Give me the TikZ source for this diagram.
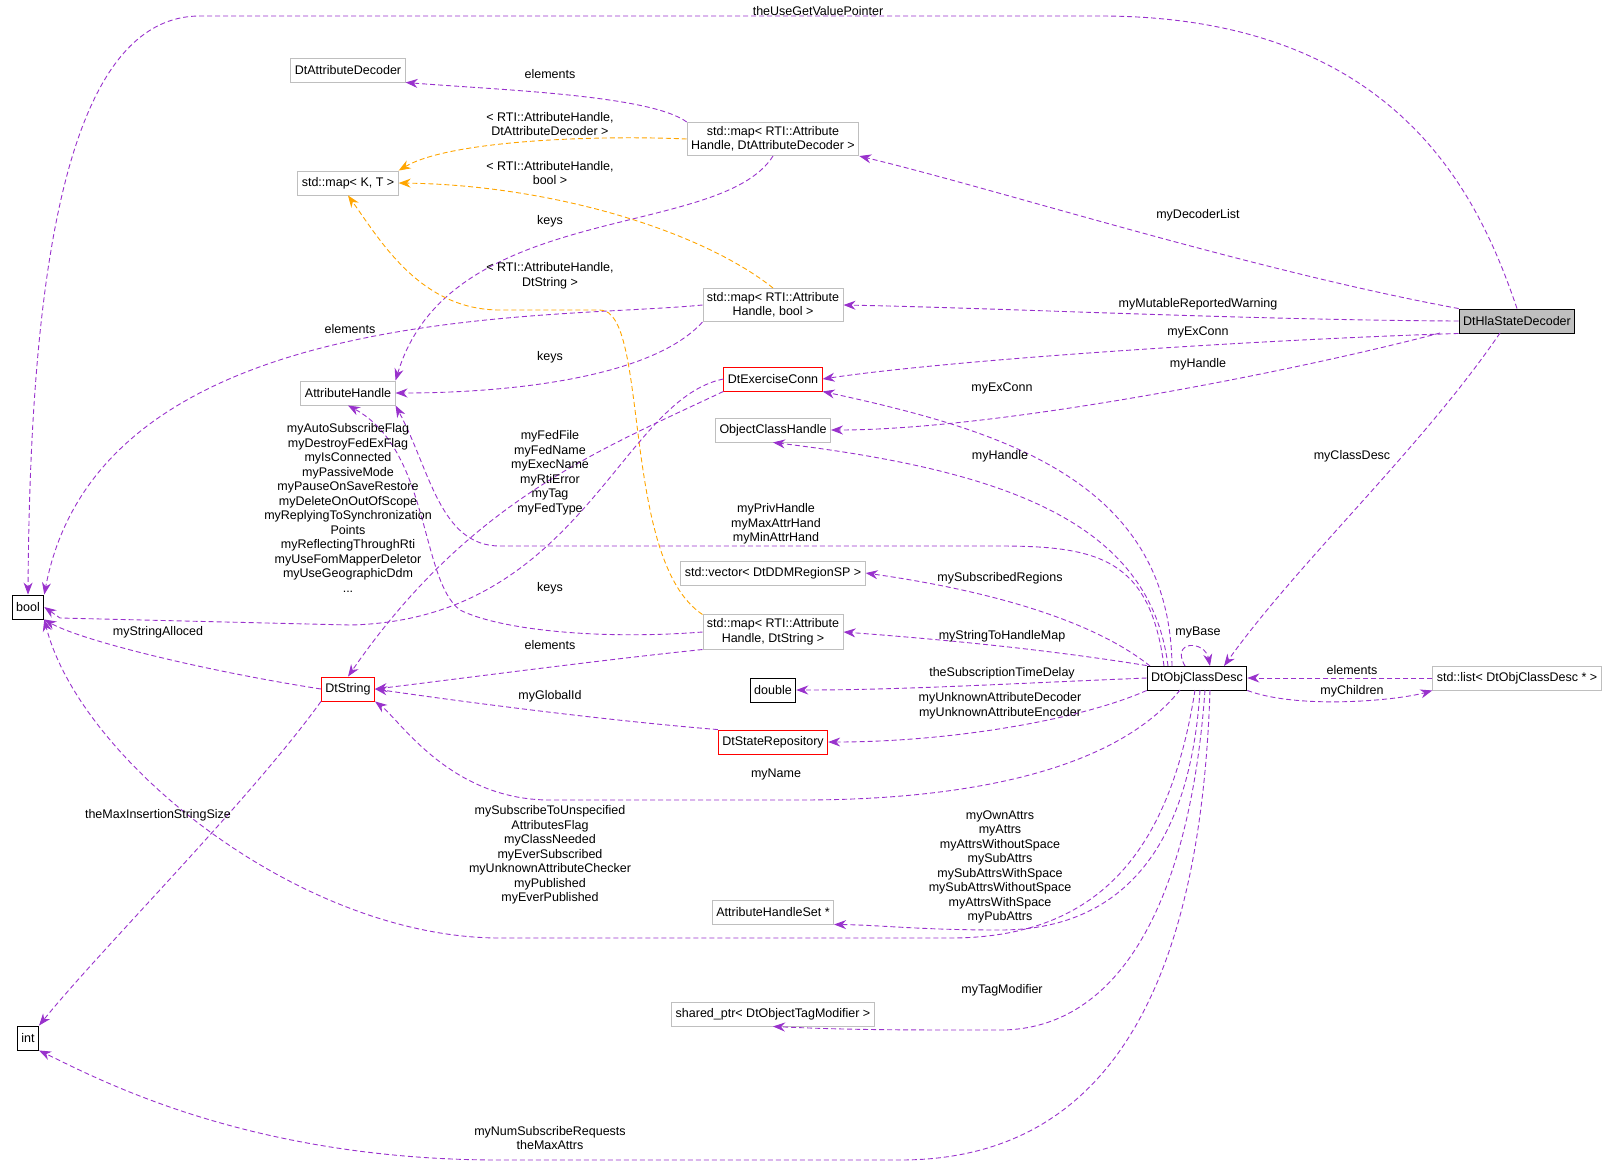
\documentclass[tikz,border=0pt]{standalone}
\usepackage{fontspec}
\setmainfont{Liberation Sans}
\usetikzlibrary{arrows.meta}
\definecolor{edgepurple}{RGB}{153,50,204}
\definecolor{edgeorange}{RGB}{255,165,0}
\definecolor{boxgray}{RGB}{191,191,191}
\tikzset{
  cls/.style={draw=boxgray, fill=white, line width=0.9pt, inner sep=4pt, minimum height=24pt, align=center, font=\fontsize{12.5}{14.5}\selectfont},
  blk/.style={cls, draw=black},
  red/.style={cls, draw=red},
  rel/.style={draw=edgepurple, line width=0.9pt, dash pattern=on 5pt off 3pt, -{Stealth[length=12pt,width=9pt]}},
  tpl/.style={rel, draw=edgeorange},
  lbl/.style={align=center, font=\fontsize{12.5}{14.5}\selectfont, inner sep=0pt}
}
\begin{document}
\begin{tikzpicture}[x=1pt,y=-1pt]
\useasboundingbox (0,0) rectangle (1619,1171);
% classes
\node[blk] (bool) at (28,607) {bool};
\node[blk] (int) at (28,1038) {int};
\node[cls] (attrdec) at (348,70) {DtAttributeDecoder};
\node[cls] (mapkt) at (348,183) {std::map\textless{} K, T \textgreater};
\node[cls] (ahandle) at (348,393) {AttributeHandle};
\node[red] (dtstring) at (348,689) {DtString};
\node[cls] (mapdec) at (773,139) {std::map\textless{} RTI::Attribute\\Handle, DtAttributeDecoder \textgreater};
\node[cls] (mapbool) at (773,305) {std::map\textless{} RTI::Attribute\\Handle, bool \textgreater};
\node[red] (exconn) at (773,379) {DtExerciseConn};
\node[cls] (och) at (773,430) {ObjectClassHandle};
\node[cls] (regions) at (773,573) {std::vector\textless{} DtDDMRegionSP \textgreater};
\node[cls] (mapstr) at (773,632) {std::map\textless{} RTI::Attribute\\Handle, DtString \textgreater};
\node[blk] (double) at (773,690) {double};
\node[red] (staterepo) at (773,742) {DtStateRepository};
\node[cls] (ahset) at (773,912) {AttributeHandleSet *};
\node[cls] (tagmod) at (773,1014) {shared\_ptr\textless{} DtObjectTagModifier \textgreater};
\node[blk, fill=boxgray] (hla) at (1517,321) {DtHlaStateDecoder};
\node[blk] (objdesc) at (1197,678) {DtObjClassDesc};
\node[cls] (list) at (1517,678) {std::list\textless{} DtObjClassDesc * \textgreater};
% DtHlaStateDecoder
\draw[rel] (hla.north) .. controls (1480,200) and (1400,16) .. (1100,16) -- (200,16) .. controls (60,16) and (30,300) .. (bool.north);
\draw[rel] (hla.north west) .. controls (1250,270) and (1000,190) .. (mapdec.south east);
\draw[rel] (hla.west) .. controls (1250,320) and (1000,308) .. (mapbool.east);
\draw[rel] (hla.south west) .. controls (1250,340) and (950,360) .. (exconn.east);
\draw[rel] (1440,333) .. controls (1300,370) and (1000,430) .. (och.east);
\draw[rel] (1500,333) .. controls (1420,450) and (1300,560) .. (1224,666);
% DtObjClassDesc
\draw[rel] (1185,666) .. controls (1170,640) and (1205,640) .. (1210,666);
\draw[rel] (1172,666) .. controls (1170,480) and (1000,430) .. (exconn.south east);
\draw[rel] (1168,666) .. controls (1150,520) and (1000,470) .. (och.south);
\draw[rel] (1164,666) .. controls (1150,560) and (1100,546) .. (1000,546) -- (500,546) .. controls (440,546) and (430,470) .. (ahandle.south east);
\draw[rel] (1150,666) .. controls (1080,610) and (950,585) .. (regions.east);
\draw[rel] (objdesc.north west) .. controls (1050,650) and (950,640) .. (mapstr.east);
\draw[rel] (objdesc.west) .. controls (1000,684) and (900,690) .. (double.east);
\draw[rel] (objdesc.south west) .. controls (1080,720) and (950,742) .. (staterepo.east);
\draw[rel] (1180,690) .. controls (1100,790) and (900,800) .. (800,800) -- (550,800) .. controls (450,800) and (400,720) .. (dtstring.south east);
\draw[rel] (1195,690) .. controls (1170,850) and (1100,938) .. (950,938) -- (500,938) .. controls (300,938) and (80,760) .. (bool.south east);
\draw[rel] (1200,690) .. controls (1190,850) and (1120,930) .. (1000,930) .. controls (920,930) and (880,925) .. (ahset.south east);
\draw[rel] (1205,690) .. controls (1190,900) and (1120,1030) .. (1000,1030) .. controls (900,1030) and (850,1030) .. (tagmod.south);
\draw[rel] (1210,690) .. controls (1200,1000) and (1100,1160) .. (900,1160) -- (500,1160) .. controls (250,1160) and (100,1080) .. (int.south east);
\draw[rel] (objdesc.south east) .. controls (1300,710) and (1400,700) .. (list.south west);
\draw[rel] (list.west) -- (objdesc.east);
% maps
\draw[rel] (mapdec.north west) .. controls (650,95) and (500,90) .. (attrdec.south east);
\draw[tpl] (mapdec.west) .. controls (600,135) and (450,140) .. (mapkt.north east);
\draw[rel] (mapdec.south) .. controls (720,240) and (450,200) .. (ahandle.north east);
\draw[tpl] (mapbool.north) .. controls (700,230) and (550,185) .. (mapkt.east);
\draw[rel] (mapbool.west) .. controls (550,320) and (100,300) .. (bool.north east);
\draw[rel] (mapbool.south west) .. controls (650,380) and (500,393) .. (ahandle.east);
\draw[tpl] (mapstr.north west) .. controls (620,560) and (650,310) .. (600,310) -- (500,310) .. controls (420,310) and (380,240) .. (mapkt.south);
\draw[rel] (mapstr.west) .. controls (600,640) and (500,630) .. (460,610) .. controls (420,580) and (430,450) .. (ahandle.south);
\draw[rel] (mapstr.south west) .. controls (600,660) and (450,680) .. (dtstring.east);
% others
\draw[rel] (exconn.west) .. controls (620,400) and (580,620) .. (350,625) -- (60,618) -- (bool.east);
\draw[rel] (exconn.south west) .. controls (600,450) and (470,500) .. (dtstring.north);
\draw[rel] (dtstring.west) .. controls (200,670) and (80,640) .. (bool.south east);
\draw[rel] (dtstring.south west) .. controls (250,800) and (100,950) .. (int.north east);
\draw[rel] (staterepo.north west) .. controls (600,720) and (450,700) .. (dtstring.east);
% labels
\node[lbl] (l1) at (818,11) {theUseGetValuePointer};
\node[lbl] (l2) at (1198,215) {myDecoderList};
\node[lbl] (l3) at (1198,304) {myMutableReportedWarning};
\node[lbl] (l4) at (1198,332) {myExConn};
\node[lbl] (l5) at (1198,364) {myHandle};
\node[lbl] (l6) at (1352,456) {myClassDesc};
\node[lbl] (l7) at (1198,632) {myBase};
\node[lbl] (l8) at (1002,388) {myExConn};
\node[lbl] (l9) at (1000,456) {myHandle};
\node[lbl] (l10) at (776,524) {myPrivHandle\\myMaxAttrHand\\myMinAttrHand};
\node[lbl] (l11) at (1000,578) {mySubscribedRegions};
\node[lbl] (l12) at (1002,636) {myStringToHandleMap};
\node[lbl] (l13) at (1002,673) {theSubscriptionTimeDelay};
\node[lbl] (l14) at (1000,706) {myUnknownAttributeDecoder\\myUnknownAttributeEncoder};
\node[lbl] (l15) at (776,774) {myName};
\node[lbl] (l16) at (550,855) {mySubscribeToUnspecified\\AttributesFlag\\myClassNeeded\\myEverSubscribed\\myUnknownAttributeChecker\\myPublished\\myEverPublished};
\node[lbl] (l17) at (1000,867) {myOwnAttrs\\myAttrs\\myAttrsWithoutSpace\\mySubAttrs\\mySubAttrsWithSpace\\mySubAttrsWithoutSpace\\myAttrsWithSpace\\myPubAttrs};
\node[lbl] (l18) at (1002,990) {myTagModifier};
\node[lbl] (l19) at (550,1138) {myNumSubscribeRequests\\theMaxAttrs};
\node[lbl] (l20) at (1352,670) {elements};
\node[lbl] (l21) at (1352,691) {myChildren};
\node[lbl] (l22) at (550,74) {elements};
\node[lbl] (l23) at (550,124) {\textless{} RTI::AttributeHandle,\\DtAttributeDecoder \textgreater};
\node[lbl] (l24) at (550,173) {\textless{} RTI::AttributeHandle,\\bool \textgreater};
\node[lbl] (l25) at (550,221) {keys};
\node[lbl] (l26) at (550,276) {\textless{} RTI::AttributeHandle,\\DtString \textgreater};
\node[lbl] (l27) at (350,329) {elements};
\node[lbl] (l28) at (550,357) {keys};
\node[lbl] (l29) at (348,508) {myAutoSubscribeFlag\\myDestroyFedExFlag\\myIsConnected\\myPassiveMode\\myPauseOnSaveRestore\\myDeleteOnOutOfScope\\myReplyingToSynchronization\\Points\\myReflectingThroughRti\\myUseFomMapperDeletor\\myUseGeographicDdm\\...};
\node[lbl] (l30) at (550,473) {myFedFile\\myFedName\\myExecName\\myRtiError\\myTag\\myFedType};
\node[lbl] (l31) at (550,588) {keys};
\node[lbl] (l32) at (550,645) {elements};
\node[lbl] (l33) at (550,696) {myGlobalId};
\node[lbl] (l34) at (158,632) {myStringAlloced};
\node[lbl] (l35) at (158,815) {theMaxInsertionStringSize};
\end{tikzpicture}
\end{document}
